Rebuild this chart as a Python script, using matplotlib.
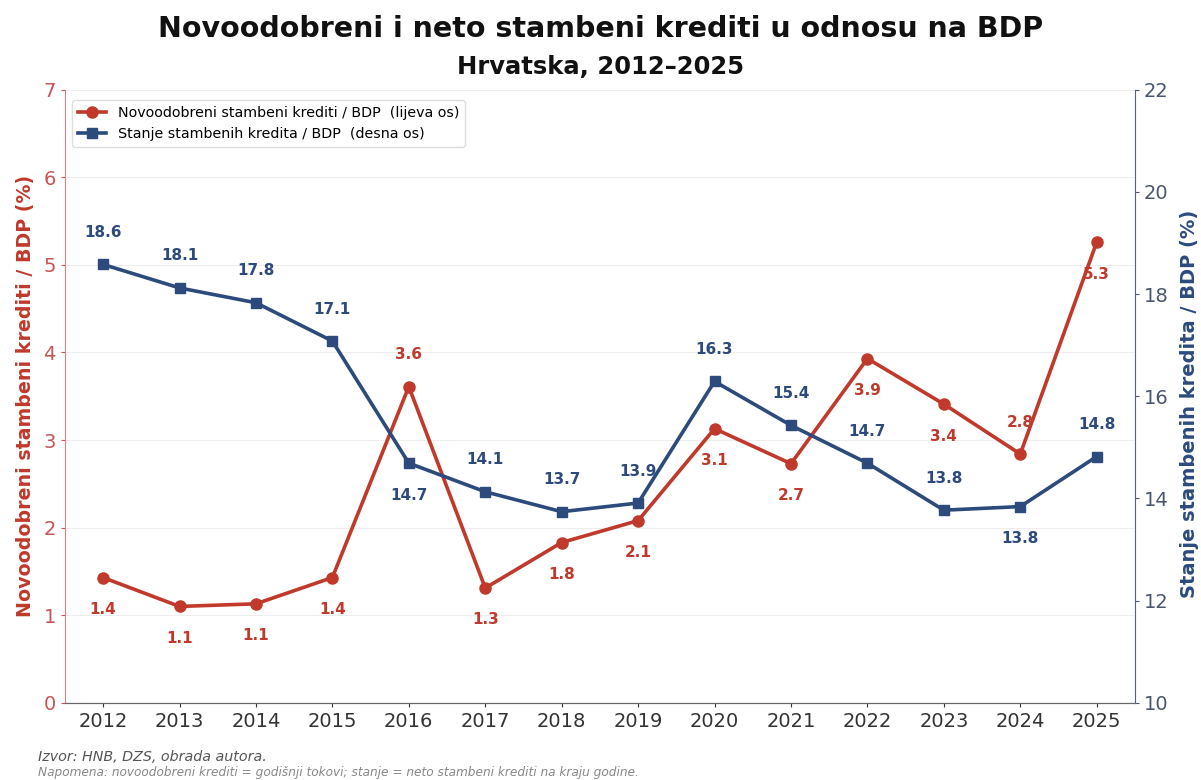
import matplotlib.pyplot as plt
import numpy as np

years = list(range(2012, 2026))
novi_krediti = [1.43, 1.10, 1.13, 1.43, 3.61, 1.31, 1.83, 2.08, 3.13, 2.73, 3.93, 3.41, 2.84, 5.26]
stanje_krediti = [18.58, 18.12, 17.83, 17.08, 14.69, 14.13, 13.74, 13.91, 16.29, 15.43, 14.69, 13.77, 13.84, 14.82]

# +1 = label above the point, -1 = below
pos_novi = [-1, -1, -1, -1, 1, -1, -1, -1, -1, -1, -1, -1, 1, -1]
pos_stanje = [1, 1, 1, 1, -1, 1, 1, 1, 1, 1, 1, 1, -1, 1]

RED = '#c0392b'
BLUE = '#2c4a7c'

fig = plt.figure(figsize=(12.01, 7.8), dpi=100)
ax = fig.add_axes([0.054, 0.099, 0.891, 0.786])
ax2 = ax.twinx()

l1, = ax.plot(years, novi_krediti, color=RED, lw=2.6, marker='o', ms=8,
              label='Novoodobreni stambeni krediti / BDP  (lijeva os)', zorder=3)
l2, = ax2.plot(years, stanje_krediti, color=BLUE, lw=2.6, marker='s', ms=7,
               label='Stanje stambenih kredita / BDP  (desna os)', zorder=3)

for x, v, p in zip(years, novi_krediti, pos_novi):
    ax.annotate(f'{v:.1f}', (x, v), xytext=(0, 23 * p), textcoords='offset points',
                ha='center', va='center', fontsize=11, fontweight='bold', color=RED)
for x, v, p in zip(years, stanje_krediti, pos_stanje):
    ax2.annotate(f'{v:.1f}', (x, v), xytext=(0, 23 * p), textcoords='offset points',
                 ha='center', va='center', fontsize=11, fontweight='bold', color=BLUE)

ax.set_xlim(2011.5, 2025.5)
ax.set_ylim(0, 7)
ax2.set_ylim(10, 22)
ax.set_xticks(years)
ax.set_yticks(range(0, 8))
ax2.set_yticks(range(10, 23, 2))

ax.grid(axis='y', color='#e6e6e6', lw=0.8, alpha=0.7)
ax.set_axisbelow(True)

ax.tick_params(axis='x', labelsize=14, colors='#333333', length=3)
ax.tick_params(axis='y', labelsize=14, colors='#c65555', length=3)
ax2.tick_params(axis='y', labelsize=14, colors='#4a5670', length=3)

for a in (ax, ax2):
    a.spines['top'].set_visible(False)
ax.spines['left'].set_color('#d98080')
ax.spines['right'].set_visible(False)
ax2.spines['left'].set_visible(False)
ax2.spines['right'].set_color('#55627a')
ax2.spines['bottom'].set_color('#666666')
ax.spines['bottom'].set_color('#666666')

ax.set_ylabel('Novoodobreni stambeni krediti / BDP (%)', fontsize=13.7,
              fontweight='bold', color=RED, labelpad=6)
ax2.set_ylabel('Stanje stambenih kredita / BDP (%)', fontsize=14,
               fontweight='bold', color=BLUE, labelpad=8)
ax2.yaxis.label.set_y(0.488)

leg = ax.legend(handles=[l1, l2], loc='upper left', fontsize=10.3,
                frameon=True, framealpha=1, edgecolor='#dddddd',
                bbox_to_anchor=(0.0, 0.995))

fig.text(0.5, 0.963, 'Novoodobreni i neto stambeni krediti u odnosu na BDP',
         ha='center', va='center', fontsize=20.5, fontweight='bold', color='#111111')
fig.text(0.5, 0.914, 'Hrvatska, 2012–2025', ha='center', va='center',
         fontsize=17.5, fontweight='bold', color='#111111')

fig.text(0.032, 0.029, 'Izvor: HNB, DZS, obrada autora.', fontsize=10.3,
         style='italic', color='#555555', va='center')
fig.text(0.032, 0.009, 'Napomena: novoodobreni krediti = godišnji tokovi; stanje = neto stambeni krediti na kraju godine.',
         fontsize=8.7, style='italic', color='#888888', va='center')

fig.savefig('out.png', dpi=100)
